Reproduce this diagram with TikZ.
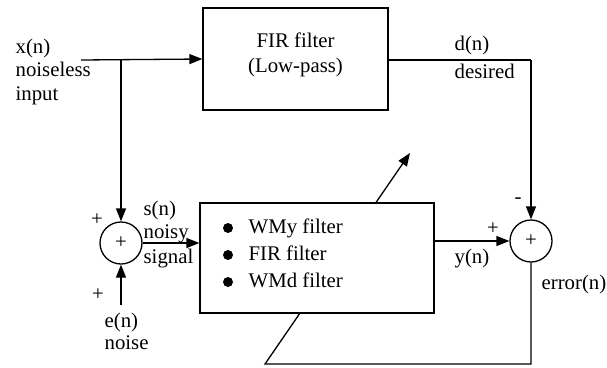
\documentclass[tikz,border=0pt]{standalone}
\usepackage{fontspec}
\setmainfont{Liberation Serif}
\usetikzlibrary{arrows.meta,backgrounds}
\begin{document}
\begin{tikzpicture}[x=1pt,y=-1pt,
  font=\fontsize{20.8}{23.5}\selectfont,
  line width=1.3pt,
  arr/.style={-{Triangle[length=13pt,width=10pt]}},
  blk/.style={draw,fill=white,inner sep=0pt},
  sumc/.style={draw,circle,minimum size=42pt,inner sep=0pt,fill=white},
  lbl/.style={anchor=base west,inner sep=0pt},
  bul/.style={circle,fill=black,inner sep=0pt,minimum size=10pt}]
\useasboundingbox (0,0) rectangle (607,367);
% blocks
\node[blk,minimum width=185pt,minimum height=102pt] (fir) at (295.5,59) {};
\node[inner sep=0pt,anchor=base] (firt1) at (295.5,47) {FIR filter};
\node[inner sep=0pt,anchor=base] (firt2) at (295.5,72) {(Low-pass)};
\node[blk,minimum width=234pt,minimum height=110pt] (adf) at (317,258) {};
\node[sumc] (s1) at (121,243) {+};
\node[sumc] (s2) at (531,241) {+};
% bullets
\node[bul] (b1) at (228,228) {};
\node[bul] (b2) at (228,255) {};
\node[bul] (b3) at (228,282) {};
\node[lbl] (t1) at (248,233) {WMy filter};
\node[lbl] (t2) at (248,260) {FIR filter};
\node[lbl] (t3) at (248,287) {WMd filter};
% coordinates
\coordinate (xin) at (81,60);
\coordinate (jx) at (121,60);
\coordinate (dc) at (531,60);
\coordinate (en) at (121,305);
\coordinate (bc) at (531,364);
\coordinate (bl) at (265,364);
\coordinate (tip) at (410,153);
% connectors
\draw[arr] (xin) -- (fir.west);
\draw[arr] (jx) -- (s1.north);
\draw[arr] (en) -- (s1.south);
\draw[arr] (s1.east) -- (adf.west |- s1.east);
\draw (fir.east |- dc) -- (dc);
\draw[arr] (dc) -- (s2.north);
\draw[arr] (adf.east |- s2.west) -- (s2.west);
\begin{scope}[on background layer]
\draw[arr,line width=1.3pt,draw=black] (s2.south) -- (bc) -- (bl) -- (tip);
\end{scope}
% labels
\node[lbl] (lx1) at (15,53) {x(n)};
\node[lbl] (lx2) at (15,76.5) {noiseless};
\node[lbl] (lx3) at (15,100) {input};
\node[lbl] (ld1) at (454,50) {d(n)};
\node[lbl] (ld2) at (454,78) {desired};
\node[lbl] (ls1) at (143,215) {s(n)};
\node[lbl] (ls2) at (143,238) {noisy};
\node[lbl] (ls3) at (143,263) {signal};
\node[lbl] (le1) at (104,327) {e(n)};
\node[lbl] (le2) at (104,349) {noise};
\node[lbl] (ly) at (454,263) {y(n)};
\node[lbl] (lerr) at (541,289) {error(n)};
\node[inner sep=0pt] (p1) at (97,220) {+};
\node[inner sep=0pt] (p2) at (98,295) {+};
\node[inner sep=0pt] (p3) at (493,229) {+};
\node[inner sep=0pt] (m1) at (518,201) {-};
\end{tikzpicture}
\end{document}
